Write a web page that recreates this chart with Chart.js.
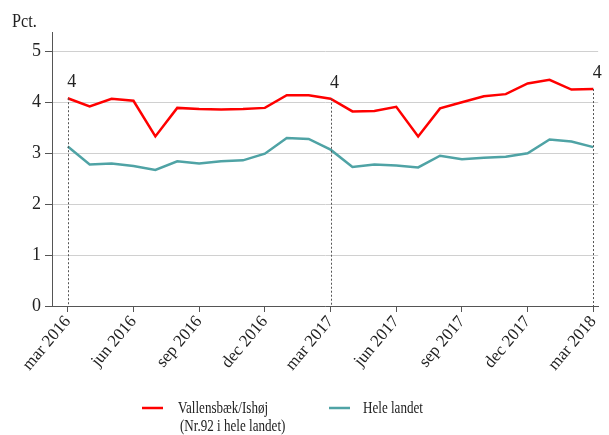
<!DOCTYPE html>
<html>
<head>
<meta charset="utf-8">
<script src="https://cdn.jsdelivr.net/npm/chart.js@4"></script>
<style>
  html, body { margin: 0; padding: 0; background: #fff; }
  #wrap { width: 609px; height: 435px; position: relative; }
</style>
</head>
<body>
<div id="wrap"><canvas id="myChart" width="609" height="435"></canvas></div>
<script>
/* Data */
const months = ["mar 2016","apr 2016","maj 2016","jun 2016","jul 2016","aug 2016","sep 2016","okt 2016","nov 2016","dec 2016",
  "jan 2017","feb 2017","mar 2017","apr 2017","maj 2017","jun 2017","jul 2017","aug 2017","sep 2017","okt 2017","nov 2017","dec 2017",
  "jan 2018","feb 2018","mar 2018"];
const tickLabels = ["mar 2016","jun 2016","sep 2016","dec 2016","mar 2017","jun 2017","sep 2017","dec 2017","mar 2018"];
const tickIndex = [0, 3, 6, 9, 12, 15, 18, 21, 24];
const yTicks = [0, 1, 2, 3, 4, 5];
const vallensbaek = [4.08,3.92,4.07,4.03,3.33,3.89,3.87,3.86,3.87,3.89,4.14,4.14,4.07,3.82,3.83,3.91,3.33,3.88,4.00,4.12,4.16,4.37,4.44,4.25,4.26];
const heleLandet = [3.13,2.78,2.80,2.75,2.67,2.84,2.80,2.84,2.86,2.99,3.30,3.28,3.07,2.73,2.78,2.76,2.72,2.95,2.88,2.91,2.93,3.00,3.27,3.23,3.12];
const markIndex = [0, 12, 24];
const markText = ["4", "4", "4"];

const RED = "#ff0000";
const TEAL = "#4fa3a5";
const FONT = "'Liberation Serif', 'DejaVu Serif', serif";

function toPoints(arr){
    return arr.map((v, i) => ({ x: i, y: v }));
}

/* text squeezed a bit, like the reference */
function squeezedText(ctx, txt, x, y, sx){
    ctx.save();
    ctx.translate(x, y);
    ctx.scale(sx, 1);
    ctx.fillText(txt, 0, 0);
    ctx.restore();
}

/* dashed marker lines + labels, title and legend */
const extras = {
    id: "extras",
    afterDatasetsDraw(chart){
        const ctx = chart.ctx;
        const xs = chart.scales.x, ys = chart.scales.y;
        ctx.save();
        ctx.strokeStyle = "#555";
        ctx.lineWidth = 1;
        ctx.setLineDash([2, 2]);
        markIndex.forEach((idx) => {
            const px = Math.round(xs.getPixelForValue(idx)) + 0.5;
            const py = ys.getPixelForValue(vallensbaek[idx]);
            ctx.beginPath();
            ctx.moveTo(px, py);
            ctx.lineTo(px, ys.getPixelForValue(0));
            ctx.stroke();
        });
        ctx.setLineDash([]);
        ctx.fillStyle = "#222";
        ctx.font = "18px " + FONT;
        ctx.textAlign = "center";
        ctx.textBaseline = "alphabetic";
        markIndex.forEach((idx, k) => {
            const px = xs.getPixelForValue(idx);
            const py = ys.getPixelForValue(vallensbaek[idx]);
            ctx.fillText(markText[k], px + 4, py - 11);
        });
        ctx.restore();
    },
    afterDraw(chart){
        const ctx = chart.ctx;
        ctx.save();
        ctx.fillStyle = "#222";
        ctx.textAlign = "left";
        ctx.textBaseline = "alphabetic";
        ctx.font = "18px " + FONT;
        squeezedText(ctx, "Pct.", 12, 27, 0.9);

        // legend
        ctx.lineWidth = 2.5;
        ctx.strokeStyle = RED;
        ctx.beginPath(); ctx.moveTo(142, 408); ctx.lineTo(163, 408); ctx.stroke();
        ctx.strokeStyle = TEAL;
        ctx.beginPath(); ctx.moveTo(329, 408); ctx.lineTo(350, 408); ctx.stroke();
        ctx.font = "17px " + FONT;
        squeezedText(ctx, "Vallensbæk/Ishøj", 178, 413, 0.77);
        squeezedText(ctx, "(Nr.92 i hele landet)", 180, 431, 0.77);
        squeezedText(ctx, "Hele landet", 363, 413, 0.77);
        ctx.restore();
    }
};

const ctx = document.getElementById("myChart").getContext("2d");
const myChart = new Chart(ctx, {
    type: "line",
    data: {
        datasets: [
            { label: "Vallensbæk/Ishøj", data: toPoints(vallensbaek), borderColor: RED, borderWidth: 2.5, pointRadius: 0, tension: 0 },
            { label: "Hele landet", data: toPoints(heleLandet), borderColor: TEAL, borderWidth: 2.5, pointRadius: 0, tension: 0 }
        ]
    },
    options: {
        responsive: false,
        animation: false,
        layout: { padding: { top: 32, right: 4, bottom: 59, left: 0 } },
        plugins: { legend: { display: false }, tooltip: { enabled: false } },
        scales: {
            x: {
                type: "linear",
                min: -0.72,
                max: 24.22,
                afterBuildTicks: (scale) => { scale.ticks = tickIndex.map(v => ({ value: v })); },
                afterFit: (scale) => { scale.height = 70; },
                ticks: {
                    autoSkip: false,
                    maxRotation: 50,
                    minRotation: 50,
                    color: "#222",
                    font: { family: FONT, size: 17 },
                    padding: 0,
                    callback: (v) => { const k = tickIndex.indexOf(v); return k >= 0 ? tickLabels[k] : ""; }
                },
                grid: { drawOnChartArea: false, tickColor: "#555", tickLength: 6 },
                border: { color: "#555", width: 1 }
            },
            y: {
                min: 0,
                max: 5.38,
                afterBuildTicks: (scale) => { scale.ticks = yTicks.map(v => ({ value: v })); },
                afterFit: (scale) => { scale.width = 52; },
                ticks: { color: "#222", font: { family: FONT, size: 18 }, padding: 4 },
                grid: { color: "#d0d0d0", tickColor: "#555", tickLength: 7 },
                border: { color: "#555", width: 1 }
            }
        }
    },
    plugins: [extras]
});
</script>
</body>
</html>
